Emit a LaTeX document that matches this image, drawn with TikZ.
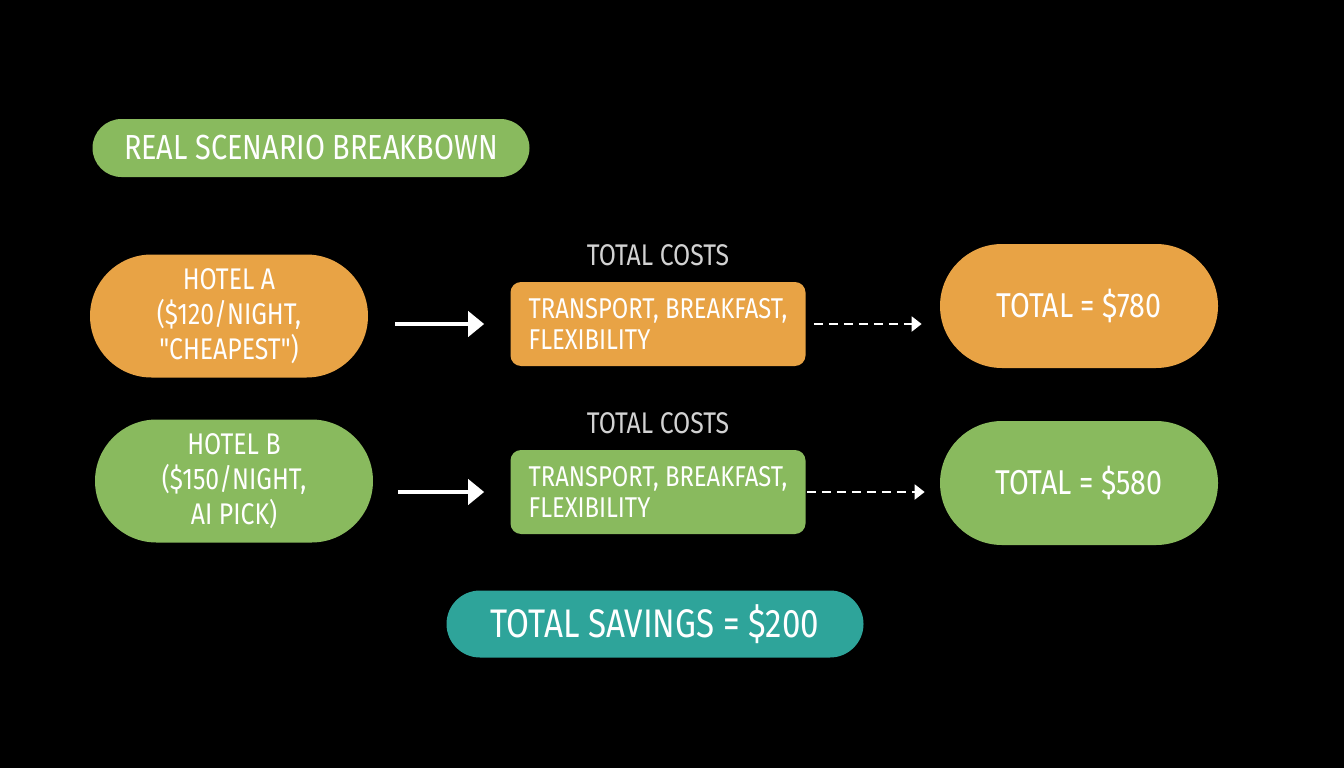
\documentclass[tikz,border=0pt]{standalone}
\usepackage{fontspec}
\setmainfont{Fira Sans}[FakeStretch=0.83,Ligatures=TeXOff]
\usepackage{xcolor}
\usepackage{tikz}
\usetikzlibrary{arrows.meta,positioning,calc,shapes.misc}
\definecolor{hbOrange}{HTML}{E8A345}
\definecolor{hbGreen}{HTML}{89BA5E}
\definecolor{hbTeal}{HTML}{2EA49A}
\definecolor{hbGrey}{HTML}{D2D2D2}
\tikzset{
  pill/.style={rounded rectangle,inner sep=0pt,text=white,align=center,
    minimum width=5.56cm,minimum height=2.46cm,font=\fontsize{17}{20}\selectfont},
  cost box/.style={rounded corners=6pt,inner sep=0pt,text=white,minimum width=5.9cm,
    minimum height=1.68cm,align=left,font=\fontsize{16.3}{17.6}\selectfont},
  cost label/.style={text=hbGrey,font=\fontsize{17}{19}\selectfont},
  flow arrow/.style={-{Triangle[length=3.2mm,width=5mm]},line width=2.6pt,draw=white},
  total arrow/.style={-{Triangle[length=2mm,width=3mm]},line width=1.1pt,draw=white,
    dash pattern=on 1.8mm off 1.2mm}
}
\begin{document}
\begin{tikzpicture}
\fill[black] (0,0) rectangle (26.88,-15.36);
\useasboundingbox (0,0) rectangle (26.88,-15.36);
% heading
\node[pill,fill=hbGreen,minimum width=8.74cm,minimum height=1.16cm,font=\fontsize{19.8}{22}\selectfont] (title) at (6.22,-2.96) {REAL SCENARIO BREAKBOWN};
% hotel A row
\node[pill,fill=hbOrange] (hotelA) at (4.58,-6.32) {HOTEL A\\(\$120/NIGHT,\\"CHEAPEST")};
\node[cost box,fill=hbOrange] (costsA) at (13.16,-6.48) {TRANSPORT, BREAKFAST,\\FLEXIBILITY};
\node[cost label,above=0.2cm of costsA] (labelA) {TOTAL COSTS};
\node[pill,fill=hbOrange,minimum height=2.48cm,font=\fontsize{19.6}{22}\selectfont] (totalA) at (21.58,-6.12) {TOTAL = \$780};
% hotel B row
\node[pill,fill=hbGreen] (hotelB) at (4.68,-9.62) {HOTEL B\\(\$150/NIGHT,\\AI PICK)};
\node[cost box,fill=hbGreen] (costsB) at (13.16,-9.84) {TRANSPORT, BREAKFAST,\\FLEXIBILITY};
\node[cost label,above=0.2cm of costsB] (labelB) {TOTAL COSTS};
\node[pill,fill=hbGreen,minimum height=2.48cm,font=\fontsize{19.6}{22}\selectfont] (totalB) at (21.58,-9.66) {TOTAL = \$580};
% result
\node[pill,fill=hbTeal,minimum width=8.34cm,minimum height=1.34cm,font=\fontsize{22.7}{25}\selectfont] (savings) at (13.1,-12.48) {TOTAL SAVINGS = \$200};
\draw[flow arrow,shorten <=0.54cm,shorten >=0.52cm] (hotelA.east |- costsA.west) -- (costsA.west);
\draw[total arrow,shorten <=0.16cm,shorten >=0.36cm] (costsA.east) -- (costsA.east -| totalA.west);
\draw[flow arrow,shorten <=0.5cm,shorten >=0.52cm] (hotelB.east |- costsB.west) -- (costsB.west);
\draw[total arrow,shorten <=0.02cm,shorten >=0.3cm] (costsB.east) -- (costsB.east -| totalB.west);
\end{tikzpicture}
\end{document}
